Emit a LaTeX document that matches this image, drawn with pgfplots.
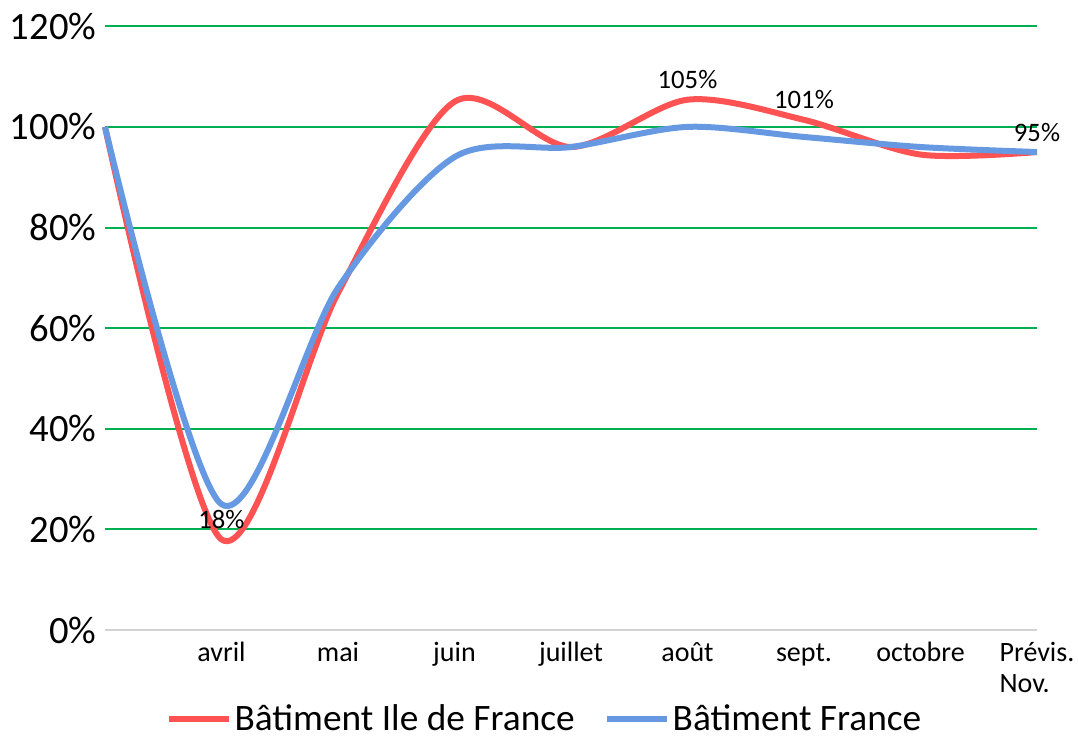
\documentclass[border=0pt]{standalone}
\usepackage{fontspec}
\setmainfont{Carlito}
\usepackage{pgfplots}
\pgfplotsset{compat=1.18}
\definecolor{redl}{RGB}{255,82,82}
\definecolor{bluel}{RGB}{102,153,226}
\definecolor{gridg}{RGB}{0,176,80}
\begin{document}
\begin{tikzpicture}
\useasboundingbox (-78.75pt,-82.5pt) rectangle (729.75pt,472.5pt);
\begin{axis}[
  at={(0,0)}, anchor=south west,
  scale only axis, width=699pt, height=452.8pt,
  xmin=0, xmax=8, ymin=0, ymax=120,
  /pgf/number format/assume math mode=true,
  ytick={0,20,...,120},
  yticklabel={\pgfmathprintnumber{\tick}\%},
  yticklabel style={font=\fontsize{29}{32}\selectfont, xshift=-3pt},
  xtick={0,...,8},
  xticklabels={{}, avril, mai, juin, juillet, août, sept., octobre, {Prévis.\\Nov.}},
  xticklabel style={font=\fontsize{21}{23}\selectfont, align=left, anchor=north, yshift=-4pt},
  typeset ticklabels with strut,
  major tick length=0pt,
  ymajorgrids,
  grid style={gridg, line width=1.5pt},
  axis x line*=bottom,
  axis y line*=left,
  y axis line style={draw=none},
  x axis line style={draw=gray!35, line width=1.5pt, -},
  legend columns=2,
  legend style={draw=none, fill=none, at={(0.472,-0.147)}, anchor=center, inner sep=0pt,
    font=\fontsize{28}{30}\selectfont, /tikz/every even column/.append style={column sep=20pt}},
  legend image code/.code={\draw[#1, line width=4.5pt] (0pt,0pt) -- (45pt,0pt);},
  clip=false,
]
\addplot[redl, line width=4.5pt, smooth, tension=0.5] coordinates {
  (0,100) (1,18) (2,67) (3,105) (4,96) (5,105.4) (6,101.4) (7,94.5) (8,95)};
\addlegendentry{Bâtiment Ile de France}
\addplot[bluel, line width=4.5pt, smooth, tension=0.5] coordinates {
  (0,100) (1,25) (2,68) (3,94) (4,96) (5,100) (6,98) (7,96) (8,95)};
\addlegendentry{Bâtiment France}
\addplot[draw=none, forget plot, point meta=explicit symbolic,
  nodes near coords, nodes near coords align={anchor=center},
  every node near coord/.append style={font=\fontsize{20}{22}\selectfont, yshift=15pt}]
  coordinates {(1,18) [18\%] (5,105.4) [105\%] (6,101.4) [101\%] (8,95) [95\%]};
\end{axis}
\end{tikzpicture}
\end{document}
